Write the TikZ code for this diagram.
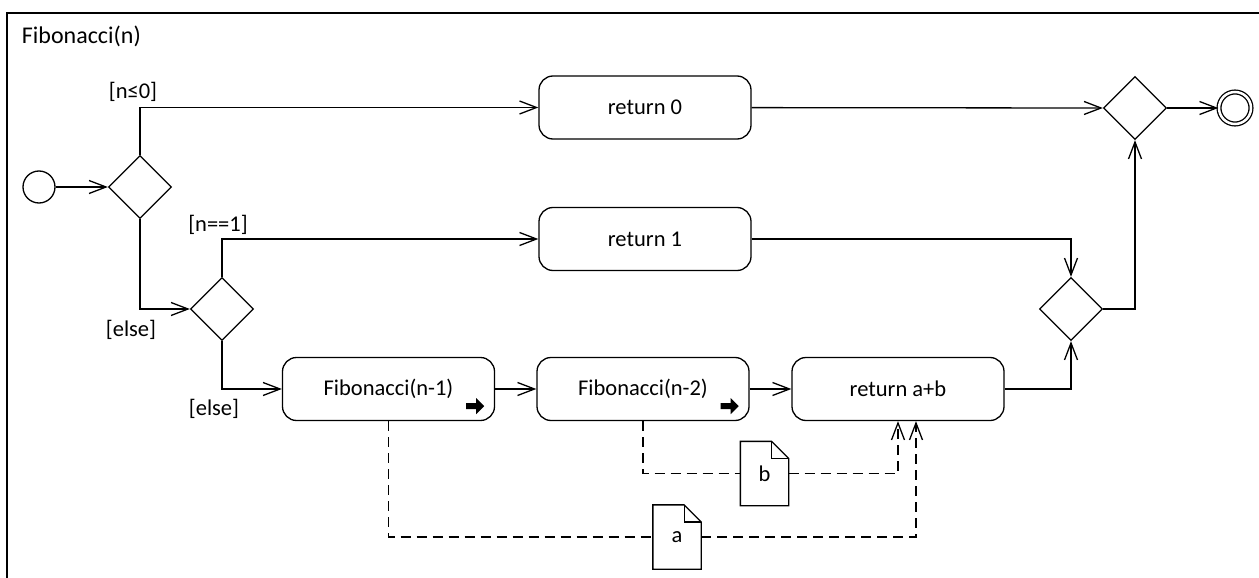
\documentclass[tikz,border=0pt]{standalone}
\usepackage{fontspec}
\setmainfont{Carlito}
\usetikzlibrary{shapes.geometric,arrows.meta}
\newcommand{\drawnote}[1]{%
  \draw (#1.south west) -- (#1.north west) -- ([xshift=-17pt]#1.north east)
    -- ([yshift=-17pt]#1.north east) -- (#1.south east) -- cycle;
  \draw ([xshift=-17pt]#1.north east) |- ([yshift=-17pt]#1.north east);}
\begin{document}
\begin{tikzpicture}[x=1pt,y=-1pt,line width=1.3pt,
    >={Straight Barb[length=17pt,width=13pt]},
    every node/.style={font=\fontsize{22.5}{26}\selectfont},
    action/.style={draw,rounded corners=14pt,minimum width=212pt,minimum height=63pt},
    decision/.style={draw,diamond,aspect=1,inner sep=0pt,minimum size=63pt},
    notebox/.style={minimum width=47pt,minimum height=63pt,inner sep=0pt},
    flow/.style={->},
    objline/.style={dash pattern=on 10pt off 6pt},
    objflow/.style={objline,->},
    callmark/.pic={\fill (-9,-3)--(1,-3)--(1,-8)--(9,0)--(1,8)--(1,3)--(-9,3)--cycle;}]
    \useasboundingbox (0,0) rectangle (1259,578);
    \draw (7,578) -- (7,13) -- (1259,13);
    \node[anchor=west,font=\fontsize{24}{28}\selectfont] (title) at (18,36) {Fibonacci(n)};

    \node[draw,circle,minimum size=32pt,inner sep=0pt] (init) at (39,187) {};
    \node[decision] (d1) at (140,187) {};
    \node[decision] (d2) at (222,309) {};
    \node[action] (ret0) at (645,107.5) {return 0};
    \node[action] (ret1) at (645,239) {return 1};
    \node[action] (fib1) at (388.5,389) {Fibonacci(n-1)};
    \node[action] (fib2) at (643,389) {Fibonacci(n-2)};
    \node[action] (retab) at (898,389) {return a+b};
    \node[decision] (d3) at (1071,309) {};
    \node[decision] (d4) at (1135,108) {};
    \node[draw,circle,double,double distance=2.5pt,minimum size=32pt,inner sep=0pt] (fin) at (1235,108) {};
    \node[notebox] (nota) at (677,537) {a};
    \node[notebox] (notb) at (764.5,473.5) {b};
    \drawnote{nota}
    \drawnote{notb}
    \pic at ([shift={(-20,-15)}]fib1.south east) {callmark};
    \pic at ([shift={(-20,-15)}]fib2.south east) {callmark};

    \node (g1) at (133,92) {[n≤0]};
    \node (g2) at (131,330) {[else]};
    \node (g3) at (218,225) {[n==1]};
    \node (g4) at (214,409) {[else]};

    \draw[flow] (init) -- (d1);
    \draw[flow] (d1.north) |- (ret0.west);
    \draw[flow] (d1.south) |- (d2.west);
    \draw[flow] (d2.north) |- (ret1.west);
    \draw[flow] (d2.south) |- (fib1.west);
    \draw[flow] (fib1) -- (fib2);
    \draw[flow] (fib2) -- (retab);
    \draw[flow] (ret0) -- (d4.west);
    \draw[flow] (ret1.east) -| (d3.north);
    \draw[flow] (retab.east) -| (d3.south);
    \draw[flow] (d3.east) -| (d4.south);
    \draw[flow] (d4) -- (fin);

    \draw[objline] (fib1.south) |- (nota.west);
    \draw[objflow] (nota.east) -| ([xshift=18pt]retab.south);
    \draw[objline] (fib2.south) |- (notb.west);
    \draw[objflow] (notb.east) -| (retab.south);
\end{tikzpicture}
\end{document}
